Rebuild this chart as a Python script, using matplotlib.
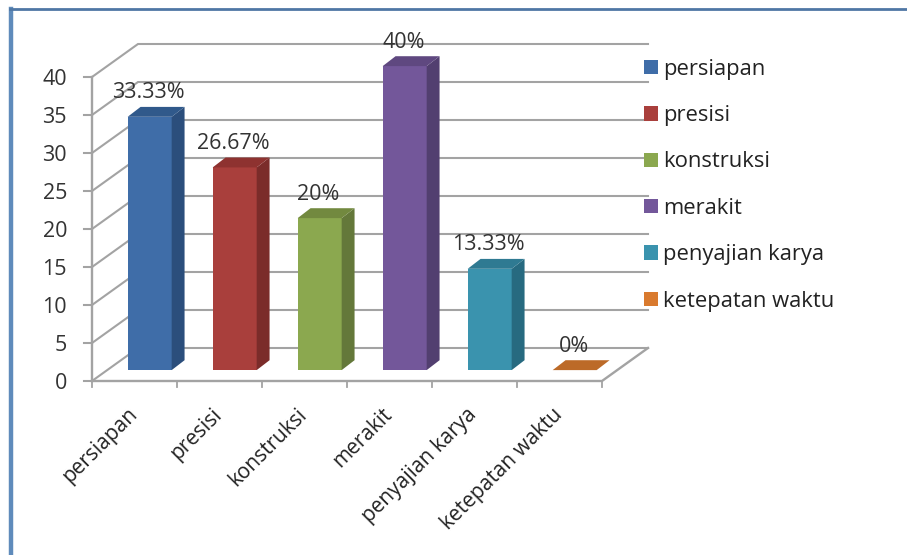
import matplotlib
matplotlib.use("Agg")
import matplotlib.pyplot as plt
from matplotlib.patches import Polygon, Patch

categories = ["persiapan", "presisi", "konstruksi", "merakit", "penyajian karya", "ketepatan waktu"]
values = [33.33, 26.67, 20, 40, 13.33, 0]
labels = ["33.33%", "26.67%", "20%", "40%", "13.33%", "0%"]
y_ticks = [0, 5, 10, 15, 20, 25, 30, 35, 40]

front_colors = ["#3F6DA8", "#A93F3C", "#8BA84F", "#73579A", "#3A93AE", "#D97A2E"]
side_colors = ["#2B4E7C", "#7B2C2A", "#64783A", "#523F70", "#276A80", "#A85E24"]
top_colors = ["#30598B", "#8E3230", "#72893F", "#5F4880", "#2F7A92", "#BC6A28"]

W, H = 907, 555
X0, Y0 = 92, 381      # pixel position of the axes corner
CAT_W, UNIT_H = 85.0, 7.6

# depth of the floor, in data units
DEPTH_X = 46 / CAT_W
DEPTH_Y = 33 / UNIT_H
GRID = "#A3A3A3"

plt.rcParams["font.family"] = "Open Sans"
fig = plt.figure(figsize=(W / 100, H / 100), dpi=100)
ax = fig.add_axes([0, 0, 1, 1])
ax.set_xlim(-X0 / CAT_W, (W - X0) / CAT_W)
ax.set_ylim((Y0 - H) / UNIT_H, Y0 / UNIT_H)
ax.axis("off")

n = len(categories)

# card border, left and top edges only
ax.plot([(11 - X0) / CAT_W] * 2, [(Y0 - H) / UNIT_H, (Y0 - 9) / UNIT_H], color="#5F8BBB", lw=3.2, zorder=5)
ax.plot([(10 - X0) / CAT_W, (W - X0) / CAT_W], [(Y0 - 9.5) / UNIT_H] * 2, color="#4F77A5", lw=2, zorder=5)

# walls and gridlines
for t in y_ticks:
    ax.plot([0, DEPTH_X, n + DEPTH_X], [t, t + DEPTH_Y, t + DEPTH_Y], color=GRID, lw=1.5, zorder=1, solid_joinstyle="miter")
    ax.plot([-8 / CAT_W, 0], [t, t], color=GRID, lw=1.5, zorder=2)
    ax.text(-25 / CAT_W, t - 2.5 / UNIT_H, str(t), ha="right", va="center", fontsize=15.5, color="#333333")
ax.plot([0, 0], [0, y_ticks[-1]], color=GRID, lw=1.7, zorder=2)
ax.plot([0, n, n + DEPTH_X], [0, 0, DEPTH_Y], color=GRID, lw=1.7, zorder=2)
for i in range(n + 1):
    ax.plot([i, i], [0, -6 / UNIT_H], color=GRID, lw=1.3, zorder=2)

# bars: front, side and top faces
bar_w = 44 / CAT_W
for i, v in enumerate(values):
    sx, sy = DEPTH_X * 0.33, DEPTH_Y * 0.33
    dx, dy = DEPTH_X * 0.28, DEPTH_Y * 0.3
    x0 = i + 0.5 - bar_w / 2 + sx
    x1 = x0 + bar_w
    if v > 0:
        ax.add_patch(Polygon([(x0, sy), (x1, sy), (x1, sy + v), (x0, sy + v)], fc=front_colors[i], ec="none", zorder=3))
        ax.add_patch(Polygon([(x1, sy), (x1 + dx, sy + dy), (x1 + dx, sy + v + dy), (x1, sy + v)], fc=side_colors[i], ec="none", zorder=3))
    ax.add_patch(Polygon([(x0, sy + v), (x1, sy + v), (x1 + dx, sy + v + dy), (x0 + dx, sy + v + dy)], fc=top_colors[i], ec="none", zorder=3))
    ax.text(i + 0.5 + sx - 1 / CAT_W, sy + v + 24 / UNIT_H, labels[i], ha="center", va="center", fontsize=15.5, color="#333333", zorder=6)

# slanted category labels
for i, c in enumerate(categories):
    ax.text(i + 0.5 - 8 / CAT_W, -23 / UNIT_H, c, rotation=45, rotation_mode="anchor", ha="right", va="top", fontsize=15, color="#222222")

handles = [Patch(fc=col, ec="none", label=c) for col, c in zip(front_colors, categories)]
ax.legend(handles=handles, loc="upper left", bbox_to_anchor=(637 / W, 1 - 52 / H), frameon=False, fontsize=15.8,
          handlelength=0.64, handleheight=0.64, handletextpad=0.25, labelspacing=1.16, labelcolor="#222222", borderpad=0, borderaxespad=0.3)

fig.savefig("out.png", dpi=100)
